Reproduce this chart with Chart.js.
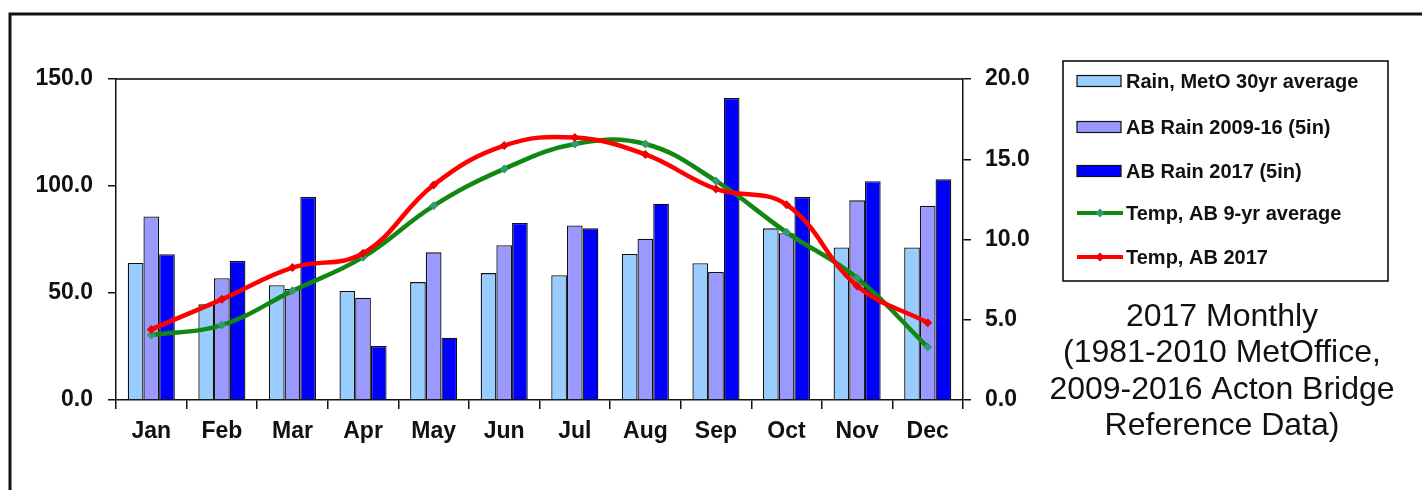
<!DOCTYPE html>
<html>
<head>
<meta charset="utf-8">
<script src="https://cdn.jsdelivr.net/npm/chart.js@4/dist/chart.umd.min.js"></script>
<style>
    html, body { margin: 0; padding: 0; background: #fff; }
    #wrap { width: 1422px; height: 490px; position: relative; }
</style>
</head>
<body>
<div id="wrap"><canvas id="rainChart"></canvas></div>
<script>
const months = ['Jan', 'Feb', 'Mar', 'Apr', 'May', 'Jun', 'Jul', 'Aug', 'Sep', 'Oct', 'Nov', 'Dec'];

// rainfall, mm
const rainMetO30yr = [64.0, 44.7, 53.6, 50.9, 55.1, 59.3, 58.3, 68.2, 63.9, 80.2, 71.3, 71.3];
const rainAB2009_16 = [85.8, 56.9, 52.0, 47.8, 69.0, 72.3, 81.6, 75.4, 59.8, 77.9, 93.3, 90.8];
const rainAB2017 = [68.1, 65.0, 94.9, 25.2, 29.1, 82.7, 80.2, 91.7, 141.1, 94.9, 102.2, 103.1];

// temperature, deg C
const tempAB9yr = [4.05, 4.67, 6.8, 8.9, 12.1, 14.4, 15.95, 15.95, 13.65, 10.45, 7.6, 3.3];
const tempAB2017 = [4.4, 6.27, 8.25, 9.14, 13.4, 15.85, 16.35, 15.3, 13.15, 12.17, 7.1, 4.82];

const rainTicks = [0, 50, 100, 150];
const tempTicks = [0, 5, 10, 15, 20];

const titleLines = ['2017 Monthly', '(1981-2010 MetOffice,', '2009-2016 Acton Bridge', 'Reference Data)'];

const FONT = "'Liberation Sans', Arial, sans-serif";

// legend box, outer frame and the note on the right
const decorPlugin = {
    id: 'decor',
    afterDraw(chart) {
        const ctx = chart.ctx;
        const a = chart.chartArea;
        ctx.save();

        // plot frame top line
        ctx.strokeStyle = '#000';
        ctx.lineWidth = 1.5;
        ctx.beginPath();
        ctx.moveTo(a.left, a.top);
        ctx.lineTo(a.right, a.top);
        ctx.stroke();

        // outer frame (cropped at right/bottom)
        ctx.lineWidth = 3;
        ctx.strokeStyle = '#111';
        ctx.strokeRect(10, 14, 1430, 500);

        // legend
        const lx = 1063, ly = 61, lw = 325, lh = 220;
        ctx.lineWidth = 1.5;
        ctx.strokeStyle = '#000';
        ctx.strokeRect(lx, ly, lw, lh);
        const rows = [81, 127, 171, 213, 257];
        ctx.font = 'bold 20px ' + FONT;
        ctx.textBaseline = 'middle';
        ctx.textAlign = 'left';
        chart.data.datasets.forEach((ds, i) => {
            const y = rows[i];
            if (ds.type === 'line') {
                ctx.strokeStyle = ds.borderColor;
                ctx.lineWidth = 4;
                ctx.beginPath();
                ctx.moveTo(1077, y);
                ctx.lineTo(1123, y);
                ctx.stroke();
                ctx.fillStyle = ds.pointBackgroundColor;
                ctx.beginPath();
                ctx.moveTo(1100, y - 4.5);
                ctx.lineTo(1104.5, y);
                ctx.lineTo(1100, y + 4.5);
                ctx.lineTo(1095.5, y);
                ctx.closePath();
                ctx.fill();
            } else {
                ctx.fillStyle = ds.backgroundColor;
                ctx.fillRect(1077, y - 5.5, 44, 11);
                ctx.strokeStyle = '#111';
                ctx.lineWidth = 1.2;
                ctx.strokeRect(1077, y - 5.5, 44, 11);
            }
            ctx.fillStyle = '#111';
            ctx.fillText(ds.label, 1126, y + 1);
        });

        // note text
        ctx.font = '32px ' + FONT;
        ctx.textAlign = 'center';
        ctx.fillStyle = '#111';
        titleLines.forEach((t, i) => ctx.fillText(t, 1222, 317 + i * 36.5));

        ctx.restore();
    }
};

const tickFont = { family: FONT, size: 23, weight: 'bold' };

new Chart(document.getElementById('rainChart'), {
    type: 'bar',
    data: {
        labels: months,
        datasets: [
            {
                label: 'Rain, MetO 30yr average',
                data: rainMetO30yr,
                backgroundColor: '#99CCFF',
                borderColor: '#111',
                borderWidth: 1.3,
                yAxisID: 'yRain',
                order: 2
            },
            {
                label: 'AB Rain 2009-16 (5in)',
                data: rainAB2009_16,
                backgroundColor: '#9999FF',
                borderColor: '#111',
                borderWidth: 1.3,
                yAxisID: 'yRain',
                order: 2
            },
            {
                label: 'AB Rain 2017 (5in)',
                data: rainAB2017,
                backgroundColor: '#0000FF',
                borderColor: '#111',
                borderWidth: 1.3,
                yAxisID: 'yRain',
                order: 2
            },
            {
                type: 'line',
                label: 'Temp, AB 9-yr average',
                data: tempAB9yr,
                borderColor: '#118811',
                borderWidth: 4.5,
                pointStyle: 'rectRot',
                pointRadius: 4.5,
                pointBackgroundColor: '#339970',
                pointBorderWidth: 0,
                tension: 0.4,
                yAxisID: 'yTemp',
                order: 1
            },
            {
                type: 'line',
                label: 'Temp, AB 2017',
                data: tempAB2017,
                borderColor: '#FF0000',
                borderWidth: 4.5,
                pointStyle: 'rectRot',
                pointRadius: 4.5,
                pointBackgroundColor: '#EE0000',
                pointBorderWidth: 0,
                tension: 0.4,
                yAxisID: 'yTemp',
                order: 0
            }
        ]
    },
    options: {
        responsive: true,
        maintainAspectRatio: false,
        animation: false,
        layout: { padding: { top: 79, bottom: 40, left: 0, right: 379 } },
        datasets: {
            bar: { categoryPercentage: 0.667, barPercentage: 1.0 }
        },
        plugins: {
            legend: { display: false },
            tooltip: { enabled: false }
        },
        scales: {
            x: {
                grid: { offset: true, drawOnChartArea: false, drawTicks: true, tickLength: 9, color: '#111', lineWidth: 1.5 },
                border: { display: true, color: '#111', width: 1.5 },
                ticks: { font: tickFont, color: '#111', padding: 9 },
                afterFit(scale) { scale.height = 50; }
            },
            yRain: {
                position: 'left',
                min: 0,
                max: 150,
                afterBuildTicks(scale) { scale.ticks = rainTicks.map(v => ({ value: v })); },
                grid: { drawOnChartArea: false, drawTicks: true, tickLength: 8, color: '#111', lineWidth: 1.5 },
                border: { display: true, color: '#111', width: 1.5 },
                ticks: { font: tickFont, color: '#111', padding: 15, callback: v => v.toFixed(1) },
                afterFit(scale) { scale.width = 116; }
            },
            yTemp: {
                position: 'right',
                min: 0,
                max: 20,
                afterBuildTicks(scale) { scale.ticks = tempTicks.map(v => ({ value: v })); },
                grid: { drawOnChartArea: false, drawTicks: true, tickLength: 8, color: '#111', lineWidth: 1.5 },
                border: { display: true, color: '#111', width: 1.5 },
                ticks: { font: tickFont, color: '#111', padding: 14, callback: v => v.toFixed(1) },
                afterFit(scale) { scale.width = 80; }
            }
        }
    },
    plugins: [decorPlugin]
});
</script>
</body>
</html>
